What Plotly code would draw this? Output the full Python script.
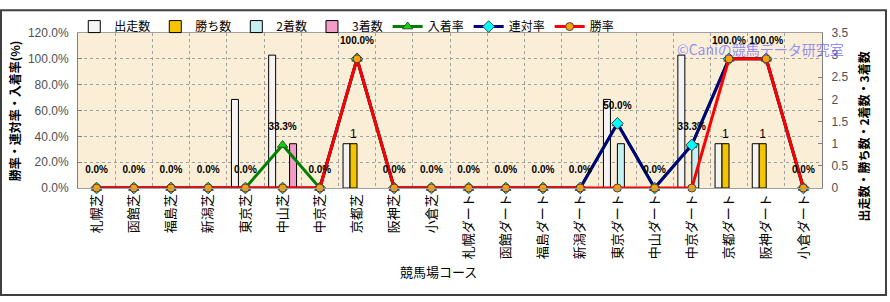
import plotly.graph_objects as go

courses = ["札幌芝", "函館芝", "福島芝", "新潟芝", "東京芝", "中山芝", "中京芝", "京都芝", "阪神芝", "小倉芝",
           "札幌ダート", "函館ダート", "福島ダート", "新潟ダート", "東京ダート", "中山ダート", "中京ダート",
           "京都ダート", "阪神ダート", "小倉ダート"]
starts = [0, 0, 0, 0, 2, 3, 0, 1, 0, 0, 0, 0, 0, 0, 2, 0, 3, 1, 1, 0]
wins = [0, 0, 0, 0, 0, 0, 0, 1, 0, 0, 0, 0, 0, 0, 0, 0, 0, 1, 1, 0]
seconds = [0, 0, 0, 0, 0, 0, 0, 0, 0, 0, 0, 0, 0, 0, 1, 0, 1, 0, 0, 0]
thirds = [0, 0, 0, 0, 0, 1, 0, 0, 0, 0, 0, 0, 0, 0, 0, 0, 0, 0, 0, 0]
place_rate = [0, 0, 0, 0, 0, 33.3, 0, 100, 0, 0, 0, 0, 0, 0, 50, 0, 33.3, 100, 100, 0]
rentai_rate = [0, 0, 0, 0, 0, 0, 0, 100, 0, 0, 0, 0, 0, 0, 50, 0, 33.3, 100, 100, 0]
win_rate = [0, 0, 0, 0, 0, 0, 0, 100, 0, 0, 0, 0, 0, 0, 0, 0, 0, 100, 100, 0]

FONT = "Noto Sans CJK JP, Liberation Sans, sans-serif"
NUMFONT = "Liberation Sans, DejaVu Sans, sans-serif"


def nz(vals):
    return [v if v else None for v in vals]


fig = go.Figure()

bar_specs = [
    ("出走数", starts, "#F4F4F4"),
    ("勝ち数", wins, "#F5C400"),
    ("2着数", seconds, "#C6F0F0"),
    ("3着数", thirds, "#F29CC8"),
]
for name, vals, col in bar_specs:
    txt = [str(v) if (name == "勝ち数" and v) else "" for v in vals]
    fig.add_trace(go.Bar(
        x=courses, y=nz(vals), name=name, yaxis="y",
        marker=dict(color=col, line=dict(color="#000000", width=1)),
        text=txt, textposition="outside", cliponaxis=False,
        textfont=dict(family=NUMFONT, size=12, color="#000000"),
    ))

line_specs = [
    ("入着率", place_rate, "#008000", "triangle-up", "#00E000", 9),
    ("連対率", rentai_rate, "#000080", "diamond", "#00FFFF", 9),
    ("勝率", win_rate, "#FF0000", "circle", "#FFA000", 8),
]
for name, vals, lc, sym, mc, ms in line_specs:
    fig.add_trace(go.Scatter(
        x=courses, y=vals, name=name, yaxis="y2", mode="lines+markers",
        line=dict(color=lc, width=3),
        marker=dict(symbol=sym, size=ms, color=mc, line=dict(color="#404040", width=1)),
        cliponaxis=False,
    ))

# data labels (入着率) drawn on top
fig.add_trace(go.Scatter(
    x=courses, y=place_rate, yaxis="y2", mode="markers+text", showlegend=False,
    marker=dict(size=18, color="rgba(0,0,0,0)"),
    text=[f"{v:.1f}%" for v in place_rate], textposition="top center",
    textfont=dict(family=NUMFONT, size=10, color="#000000", weight="bold"),
    cliponaxis=False, hoverinfo="skip",
))

fig.update_layout(
    width=890, height=302, autosize=False,
    margin=dict(l=78, r=68, t=25, b=114),
    paper_bgcolor="#FFFFFF", plot_bgcolor="#FAEED6",
    font=dict(family=FONT, size=12, color="#000000"),
    barmode="group", bargap=0.25, bargroupgap=0,
    showlegend=True,
    legend=dict(orientation="h", x=-0.005, y=1.135, xanchor="left", yanchor="top",
                font=dict(family=FONT, size=12), itemwidth=30, bgcolor="rgba(0,0,0,0)",
                traceorder="normal"),
    xaxis=dict(type="category", tickangle=-90, tickson="boundaries", ticks="",
               showgrid=True, gridcolor="#A0A0A0", griddash="dot", gridwidth=1,
               showline=True, linecolor="#A0A0A0", mirror=True,
               tickfont=dict(family=FONT, size=13, color="#000000"),
               range=[-0.5, 19.5]),
    yaxis=dict(side="right", range=[0, 3.5], dtick=0.5, showgrid=False, zeroline=False,
               ticks="inside", ticklen=4, tickcolor="#808080", showline=True, linecolor="#808080",
               tickfont=dict(family=NUMFONT, size=12, color="#505050"), ticklabelstandoff=6),
    yaxis2=dict(overlaying="y", side="left", range=[0, 120], dtick=20, tickformat=".1f",
                ticksuffix="%", showgrid=True, gridcolor="#A0A0A0", griddash="dot", zeroline=False,
                ticks="inside", ticklen=4, tickcolor="#808080", showline=True, linecolor="#808080",
                tickfont=dict(family=NUMFONT, size=12, color="#505050"), ticklabelstandoff=6),
    annotations=[
        dict(text="勝率・連対率・入着率(%)", xref="paper", yref="paper", x=-0.085, y=0.50,
             textangle=-90, showarrow=False, xanchor="center", yanchor="middle",
             font=dict(family=FONT, size=12, color="#000000", weight="bold")),
        dict(text="出走数・勝ち数・2着数・3着数", xref="paper", yref="paper", x=1.056, y=0.33,
             textangle=-90, showarrow=False, xanchor="center", yanchor="middle",
             font=dict(family=FONT, size=12, color="#000000", weight="bold")),
        dict(text="競馬場コース", xref="paper", yref="paper", x=0.485, y=-0.54,
             showarrow=False, xanchor="center", yanchor="middle",
             font=dict(family=FONT, size=13, color="#000000")),
        dict(text="©Caniの競馬データ研究室", xref="paper", yref="paper", x=1.032, y=0.896,
             showarrow=False, xanchor="right", yanchor="middle",
             font=dict(family=FONT, size=14, color="rgba(110,110,255,0.75)")),
    ],
    shapes=[
        dict(type="rect", xref="paper", yref="paper", x0=-0.1035, x1=1.086, y0=-0.690, y1=1.147,
             line=dict(color="#404040", width=2), fillcolor="rgba(0,0,0,0)", layer="above"),
    ],
)

fig.write_html("out.html")
